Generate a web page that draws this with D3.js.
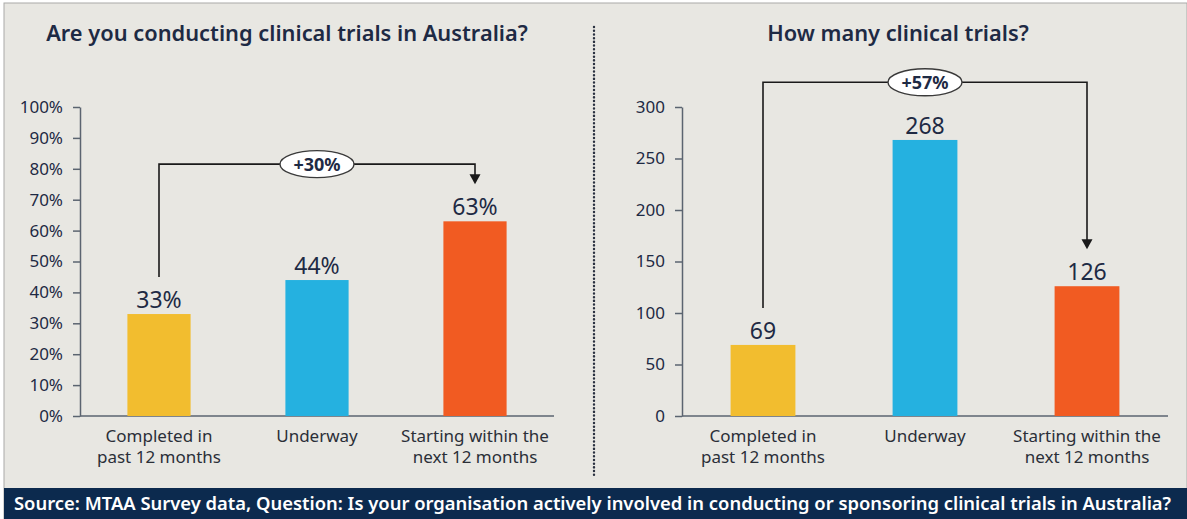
<!DOCTYPE html>
<html>
<head>
<meta charset="utf-8">
<script src="https://cdn.jsdelivr.net/npm/d3@7"></script>
<style>
  body { margin: 0; background: #ffffff; }
  svg, svg text { font-family: "Noto Sans", "Open Sans", sans-serif; }
  .tick text { fill: #1e2a44; font-size: 17px; font-family: "Noto Sans", sans-serif; }
  .axis path, .axis line { stroke: #5b6470; stroke-width: 1.5; }
</style>
</head>
<body>
<div id="chart"></div>
<script>
// data
var categories = ["Completed in|past 12 months", "Underway", "Starting within the|next 12 months"];
var pctValues = [33, 44, 63];
var countValues = [69, 268, 126];
var pctTicks = [0, 10, 20, 30, 40, 50, 60, 70, 80, 90, 100];
var countTicks = [0, 50, 100, 150, 200, 250, 300];
var barColors = ["#f2bd2f", "#25b1e0", "#f15b22"];
var titles = ["Are you conducting clinical trials in Australia?", "How many clinical trials?"];
var changeLabels = ["+30%", "+57%"];
var bracketLevels = [81.5, 324]; // in each chart's own units
var sourceText = "Source: MTAA Survey data, Question: Is your organisation actively involved in conducting or sponsoring clinical trials in Australia?";

var svgWidth = 1187;
var svgHeight = 519;
var navy = "#1e2a44";

var svg = d3.select("#chart")
  .append("svg")
  .attr("width", svgWidth)
  .attr("height", svgHeight);

// background panel + frame
svg.append("rect")
  .attr("x", 4).attr("y", 3)
  .attr("width", svgWidth - 4).attr("height", svgHeight - 3)
  .attr("fill", "#e8e7e2")
  .attr("stroke", "#a9aaa8")
  .attr("stroke-width", 1);

// footer band
svg.append("rect")
  .attr("x", 4).attr("y", 488)
  .attr("width", svgWidth - 4).attr("height", svgHeight - 488)
  .attr("fill", "#0c2a4e");

svg.append("text")
  .attr("x", 14).attr("y", 510)
  .attr("fill", "#ffffff")
  .attr("font-size", "18.4px")
  .attr("font-weight", 600)
  .text(sourceText);

// dotted divider
svg.append("line")
  .attr("x1", 594).attr("x2", 594)
  .attr("y1", 27).attr("y2", 478)
  .attr("stroke", "#2a3140")
  .attr("stroke-width", 2.4)
  .attr("stroke-linecap", "round")
  .attr("stroke-dasharray", "0.1,3.6");

function drawPanel(opts) {
  var g = svg.append("g");

  var x = d3.scaleBand()
    .domain(categories)
    .range([opts.x0, opts.x1])
    .paddingInner(0.6)
    .paddingOuter(0.3);

  var y = d3.scaleLinear()
    .domain([0, opts.max])
    .range([416, 107]);

  // title
  g.append("text")
    .attr("x", opts.titleX)
    .attr("y", 41)
    .attr("text-anchor", "middle")
    .attr("fill", navy)
    .attr("font-size", "21.8px")
    .attr("font-weight", 600)
    .text(opts.title);

  // y axis
  var leftAxis = d3.axisLeft(y)
    .tickValues(opts.ticks)
    .tickSize(7)
    .tickSizeOuter(0)
    .tickPadding(10)
    .tickFormat(opts.fmt);

  g.append("g")
    .attr("class", "axis")
    .attr("transform", `translate(${opts.x0}, 0)`)
    .call(leftAxis);

  // x baseline
  g.append("line")
    .attr("x1", opts.x0).attr("x2", opts.x1)
    .attr("y1", y(0)).attr("y2", y(0))
    .attr("stroke", "#5b6470")
    .attr("stroke-width", 1.5);

  // bars
  g.selectAll("rect.bar")
    .data(opts.values)
    .enter()
    .append("rect")
    .attr("class", "bar")
    .attr("x", (d, i) => x(categories[i]))
    .attr("y", d => y(d))
    .attr("width", x.bandwidth())
    .attr("height", d => y(0) - y(d))
    .attr("fill", (d, i) => barColors[i]);

  // value labels
  g.selectAll("text.val")
    .data(opts.values)
    .enter()
    .append("text")
    .attr("class", "val")
    .attr("x", (d, i) => x(categories[i]) + x.bandwidth() / 2)
    .attr("y", d => y(d) - 6)
    .attr("text-anchor", "middle")
    .attr("fill", navy)
    .attr("font-size", "23px")
    .text(d => opts.fmt(d));

  // category labels (two lines)
  categories.forEach(function(c, i) {
    var t = g.append("text")
      .attr("x", x(c) + x.bandwidth() / 2)
      .attr("y", 442)
      .attr("text-anchor", "middle")
      .attr("fill", "#2b2f38")
      .attr("font-size", "17px");
    c.split("|").forEach(function(line, j) {
      t.append("tspan")
        .attr("x", x(c) + x.bandwidth() / 2)
        .attr("dy", j === 0 ? 0 : 21)
        .text(line);
    });
  });

  // change bracket from first to last bar
  var first = categories[0];
  var last = categories[categories.length - 1];
  var xa = x(first) + x.bandwidth() / 2;
  var xb = x(last) + x.bandwidth() / 2;
  var yTop = y(opts.bracket);
  var yStart = y(opts.values[0]) - 37;
  var yEnd = y(opts.values[opts.values.length - 1]) - 37;

  g.append("path")
    .attr("d", `M${xa},${yStart} V${yTop} H${xb} V${yEnd - 8}`)
    .attr("fill", "none")
    .attr("stroke", "#1a1a1a")
    .attr("stroke-width", 1.6);

  g.append("path")
    .attr("d", `M${xb - 5.5},${yEnd - 10} L${xb + 5.5},${yEnd - 10} L${xb},${yEnd} Z`)
    .attr("fill", "#1a1a1a");

  var cx = x(categories[1]) + x.bandwidth() / 2;
  g.append("ellipse")
    .attr("cx", cx)
    .attr("cy", yTop)
    .attr("rx", 37)
    .attr("ry", 13.5)
    .attr("fill", "#ffffff")
    .attr("stroke", "#3a3a3a")
    .attr("stroke-width", 1.4);

  g.append("text")
    .attr("x", cx)
    .attr("y", yTop + 6.5)
    .attr("text-anchor", "middle")
    .attr("fill", navy)
    .attr("font-size", "18px")
    .attr("font-weight", 700)
    .text(opts.change);
}

drawPanel({
  x0: 80, x1: 554, max: 100,
  values: pctValues, ticks: pctTicks,
  fmt: d => d + "%",
  title: titles[0], titleX: 287,
  change: changeLabels[0], bracket: bracketLevels[0]
});

drawPanel({
  x0: 682, x1: 1168, max: 300,
  values: countValues, ticks: countTicks,
  fmt: d => String(d),
  title: titles[1], titleX: 898,
  change: changeLabels[1], bracket: bracketLevels[1]
});
</script>
</body>
</html>
